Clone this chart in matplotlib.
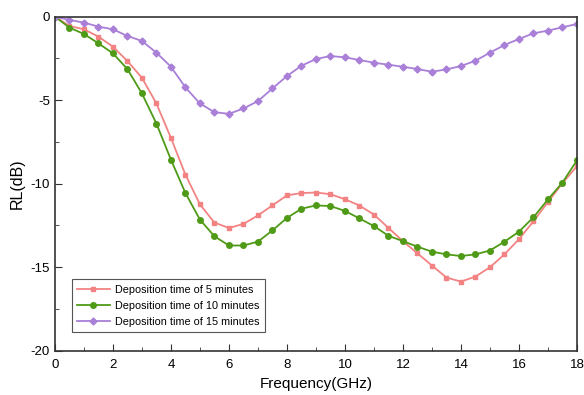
import numpy as np
import matplotlib
matplotlib.use('Agg')
import matplotlib.pyplot as plt
from matplotlib.ticker import MultipleLocator

plt.rcParams['font.family'] = ['Liberation Sans', 'DejaVu Sans']
plt.rcParams['axes.unicode_minus'] = False

# Frequency points (GHz), every 0.5 GHz
freq = np.arange(0, 18.01, 0.5)

# RL (dB)
rl_5min = [0, -0.56, -0.76, -1.2, -1.8, -2.66, -3.66, -5.2, -7.26, -9.46,
           -11.24, -12.33, -12.65, -12.41, -11.9, -11.3, -10.7, -10.56, -10.53, -10.63,
           -10.93, -11.31, -11.85, -12.65, -13.44, -14.17, -14.9, -15.62, -15.86, -15.56,
           -15.0, -14.23, -13.32, -12.25, -11.1, -9.97, -8.95]
rl_10min = [0, -0.66, -1.04, -1.6, -2.2, -3.14, -4.6, -6.4, -8.56, -10.56,
            -12.15, -13.15, -13.7, -13.7, -13.47, -12.8, -12.05, -11.5, -11.3, -11.34,
            -11.63, -12.08, -12.54, -13.12, -13.44, -13.77, -14.07, -14.23, -14.33, -14.23,
            -14.0, -13.47, -12.87, -12.01, -10.94, -9.93, -8.6]
rl_15min = [0, -0.2, -0.36, -0.6, -0.76, -1.16, -1.46, -2.16, -3.0, -4.24,
            -5.2, -5.72, -5.82, -5.5, -5.06, -4.3, -3.56, -2.94, -2.54, -2.36,
            -2.44, -2.6, -2.76, -2.88, -3.0, -3.14, -3.3, -3.16, -2.96, -2.64,
            -2.16, -1.7, -1.34, -1.0, -0.84, -0.64, -0.44]

labels = ['Deposition time of 5 minutes',
          'Deposition time of 10 minutes',
          'Deposition time of 15 minutes']

fig = plt.figure(figsize=(5.84, 3.95), dpi=100)
ax = fig.add_axes([0.094, 0.112, 0.894, 0.846])

ax.plot(freq, rl_5min, color='#f38383', marker='s', markersize=3.5, lw=1.3, label=labels[0])
ax.plot(freq, rl_10min, color='#4f9a17', marker='o', markersize=4, lw=1.3, label=labels[1])
ax.plot(freq, rl_15min, color='#a97fd8', marker='D', markersize=3.5, lw=1.3, label=labels[2])

ax.set_xlim(0, 18)
ax.set_ylim(-20, 0)
ax.xaxis.set_major_locator(MultipleLocator(2))
ax.xaxis.set_minor_locator(MultipleLocator(1))
ax.yaxis.set_major_locator(MultipleLocator(5))
ax.yaxis.set_minor_locator(MultipleLocator(2.5))
ax.tick_params(which='both', direction='in', top=False, right=False, labelsize=9.5, color='#333333')
ax.tick_params(which='major', length=5)
ax.tick_params(which='minor', length=3)
ax.tick_params(axis='x', pad=6)
for s in ax.spines.values():
    s.set_color('#333333')
    s.set_linewidth(1.2)

ax.set_xlabel('Frequency(GHz)', fontsize=11)
ax.set_ylabel('RL(dB)', fontsize=11.5)

leg = ax.legend(loc='lower left', bbox_to_anchor=(0.022, 0.04), fontsize=7.8, fancybox=False,
                edgecolor='#555555', handlelength=3.0, borderpad=0.5, labelspacing=0.55,
                handletextpad=0.5, framealpha=1)
leg.get_frame().set_linewidth(0.8)

plt.savefig('out.png', dpi=100)
plt.close()
